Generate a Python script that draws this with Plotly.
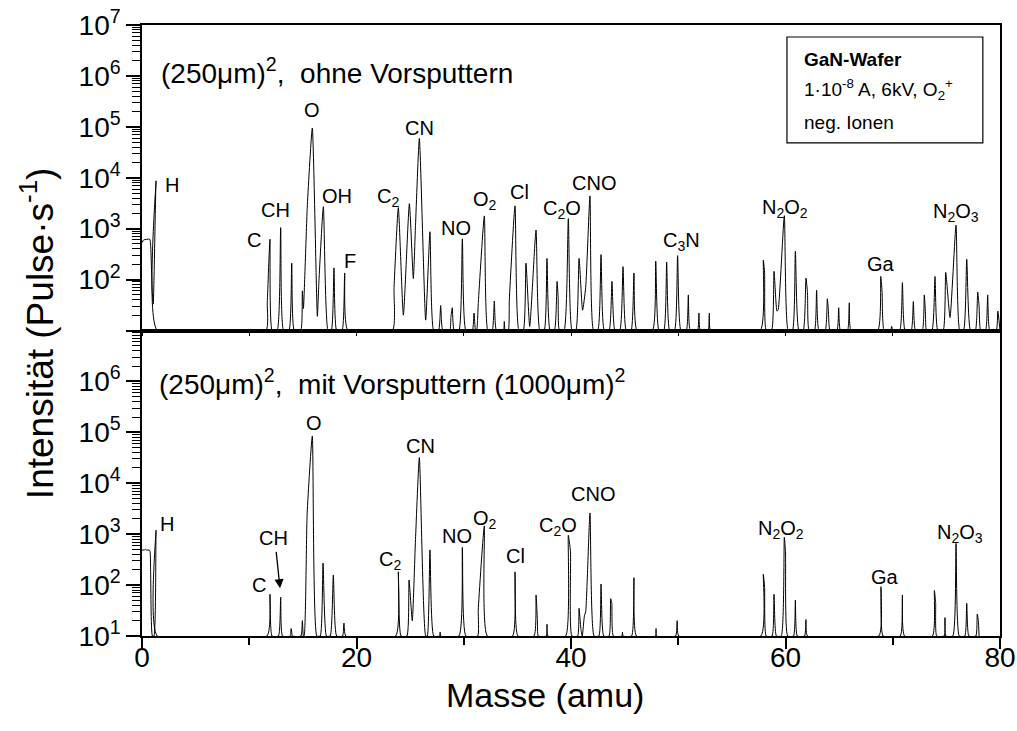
import plotly.graph_objects as go

# ---------------- data ----------------
# top panel: (250um)^2 without pre-sputtering; mass (amu) and intensity (counts/s)
top_mass = [0.00, 0.15, 0.72, 0.80, 0.95, 1.05, 1.31, 1.43,
            11.55, 11.68, 11.93, 12.13,
            12.60, 12.93, 13.20,
            13.70, 13.96, 14.20,
            14.80, 14.95, 15.05, 15.42, 15.88, 16.35, 16.50, 16.91, 17.35,
            17.65, 17.90, 18.15,
            18.65, 18.90, 19.20,
            23.35, 23.50, 23.90, 24.37, 24.93, 25.30, 25.50, 25.86, 26.45, 26.85, 27.20,
            27.65, 27.85, 28.05,
            28.70, 28.80, 28.93, 29.10,
            29.55, 29.87, 30.20,
            30.80, 30.96, 31.10,
            31.20, 31.36, 31.92, 32.25,
            32.65, 32.85, 33.05,
            33.70, 33.78, 33.86,
            34.15, 34.25, 34.78, 35.15,
            35.55, 35.80, 36.15, 36.74, 37.10,
            37.50, 37.76, 38.05,
            38.45, 38.70, 38.80, 38.92,
            39.35, 39.75, 40.10,
            40.45, 40.75, 41.08, 41.37, 41.77, 42.10,
            42.50, 42.80, 43.10,
            43.55, 43.82, 44.10,
            44.55, 44.85, 45.15,
            45.60, 45.87, 46.15,
            47.60, 47.90, 48.20,
            48.65, 48.92, 49.20,
            49.65, 49.94, 50.25,
            50.75, 50.94, 51.12,
            51.80, 51.93, 52.05,
            52.78, 52.90, 53.02,
            57.65, 57.93, 58.05, 58.20,
            58.70, 58.93, 59.20, 59.32, 59.89, 60.25,
            60.65, 60.92, 61.25,
            61.65, 61.91, 62.05, 62.20,
            62.70, 62.90, 63.12,
            63.70, 63.90, 64.00, 64.15,
            64.80, 64.96, 65.12,
            65.78, 65.95, 66.12,
            68.60, 68.88, 69.00, 69.20,
            69.80, 69.90, 70.00,
            70.65, 70.90, 71.15,
            71.72, 71.92, 72.12,
            72.75, 72.94, 73.05, 73.15,
            73.65, 73.94, 74.20,
            74.70, 74.94, 75.34, 75.90, 76.25,
            76.60, 76.90, 77.25,
            77.70, 77.92, 78.05, 78.20,
            78.65, 78.85, 79.05,
            79.65, 79.80, 80.00]
top_counts = [530, 600, 620, 500, 60, 33, 8700, 10,
              10, 35, 620, 10,
              10, 1050, 10,
              10, 210, 10,
              10, 60, 27, 3000, 95000, 19, 95, 2700, 10,
              10, 170, 10,
              10, 135, 10,
              10, 70, 2600, 20, 3100, 105, 1150, 59000, 16, 870, 10,
              10, 31, 10,
              10, 18, 28, 10,
              10, 630, 10,
              10, 22, 10,
              10, 36, 1780, 10,
              10, 38, 10,
              10, 15, 10,
              10, 40, 2800, 10,
              10, 210, 12, 940, 10,
              10, 260, 10,
              10, 92, 45, 10,
              10, 1580, 10,
              10, 260, 25, 70, 4400, 10,
              10, 310, 10,
              10, 92, 10,
              10, 180, 10,
              10, 135, 10,
              10, 230, 10,
              10, 220, 10,
              10, 295, 10,
              10, 50, 10,
              10, 22, 10,
              10, 22, 10,
              10, 240, 140, 10,
              10, 145, 24, 26, 1800, 10,
              10, 360, 10,
              10, 107, 55, 10,
              10, 62, 10,
              10, 42, 25, 10,
              10, 28, 10,
              10, 35, 10,
              10, 115, 60, 10,
              10, 12, 10,
              10, 87, 10,
              10, 37, 10,
              10, 50, 22, 10,
              10, 115, 10,
              10, 138, 18, 1170, 10,
              10, 250, 10,
              10, 57, 30, 10,
              10, 50, 10,
              10, 24, 10]

# bottom panel: (250um)^2 with pre-sputtering (1000um)^2
bot_mass = [0.00, 0.10, 0.20, 0.30, 0.40, 0.72, 0.80, 0.97, 1.12, 1.31, 1.43,
            11.65, 11.93, 12.12,
            12.72, 12.93, 13.10,
            13.82, 13.90, 13.96, 14.02,
            14.82, 14.95, 15.05, 15.12, 15.40, 15.88, 16.30,
            16.62, 16.88, 17.20,
            17.55, 17.84, 18.15,
            18.70, 18.83, 19.00,
            23.65, 23.90, 24.15,
            24.70, 24.90, 25.20, 25.50, 25.86, 26.45,
            26.60, 26.85, 27.20,
            27.75, 27.80, 27.85,
            29.55, 29.87, 30.20,
            31.30, 31.35, 31.92, 32.20,
            34.55, 34.78, 35.05,
            36.55, 36.74, 36.87, 36.95,
            37.70, 37.76, 37.85,
            39.50, 39.75, 39.95, 40.08,
            40.62, 40.75, 40.92, 41.05, 41.25, 41.37, 41.77, 42.15,
            42.60, 42.80, 43.05,
            43.55, 43.70, 43.80, 43.95,
            44.75, 44.80, 44.85,
            45.65, 45.87, 46.10,
            47.88, 47.93, 47.98,
            49.75, 49.90, 50.05,
            57.70, 57.93, 58.05, 58.20,
            58.75, 58.93, 59.15,
            59.60, 59.89, 60.00, 60.20,
            60.75, 60.92, 61.10,
            61.78, 61.91, 62.05,
            68.70, 68.90, 69.10,
            70.70, 70.90, 71.10,
            73.70, 73.88, 74.00, 74.10,
            74.80, 74.87, 74.95,
            75.60, 75.90, 76.20,
            76.72, 76.90, 77.10,
            77.75, 77.88, 77.98, 78.05]
bot_counts = [470, 500, 480, 510, 490, 480, 200, 10, 10, 1200, 10,
              10, 66, 10,
              10, 58, 10,
              10, 14, 12, 10,
              10, 20, 10, 10, 2600, 85000, 10,
              10, 270, 10,
              10, 158, 10,
              10, 18, 10,
              10, 182, 10,
              10, 126, 20, 780, 32000, 10,
              10, 490, 10,
              10, 12, 10,
              10, 550, 10,
              10, 32, 1450, 10,
              10, 182, 10,
              10, 64, 20, 10,
              10, 17, 10,
              10, 950, 450, 10,
              10, 35, 14, 10, 25, 30, 2600, 10,
              10, 105, 10,
              10, 54, 45, 10,
              10, 12, 10,
              10, 140, 10,
              10, 14, 10,
              10, 20, 10,
              10, 163, 90, 10,
              10, 66, 10,
              10, 870, 450, 10,
              10, 51, 10,
              10, 21, 10,
              10, 93, 10,
              10, 64, 10,
              10, 78, 45, 10,
              10, 23, 10,
              10, 660, 10,
              10, 44, 10,
              10, 27, 20, 10]

x_tick_vals = [0, 20, 40, 60, 80]
x_minor_vals = [10, 30, 50, 70]
y_tick_vals = [1e1, 1e2, 1e3, 1e4, 1e5, 1e6, 1e7]
top_tick_text = ["", "10<sup>2</sup>", "10<sup>3</sup>", "10<sup>4</sup>",
                 "10<sup>5</sup>", "10<sup>6</sup>", "10<sup>7</sup>"]
bot_tick_text = ["10<sup>1</sup>", "10<sup>2</sup>", "10<sup>3</sup>", "10<sup>4</sup>",
                 "10<sup>5</sup>", "10<sup>6</sup>", ""]
y_minor_vals = [m * 10 ** k for k in range(1, 7) for m in range(2, 10)]

top_labels = ["H", "C", "CH", "O", "OH", "F", "C<sub>2</sub>", "CN", "NO", "O<sub>2</sub>",
              "Cl", "C<sub>2</sub>O", "CNO", "C<sub>3</sub>N", "N<sub>2</sub>O<sub>2</sub>",
              "Ga", "N<sub>2</sub>O<sub>3</sub>"]
bot_labels = ["H", "C", "CH", "O", "C<sub>2</sub>", "CN", "NO", "O<sub>2</sub>", "Cl",
              "C<sub>2</sub>O", "CNO", "N<sub>2</sub>O<sub>2</sub>", "Ga", "N<sub>2</sub>O<sub>3</sub>"]

# ---------------- layout positions (label placement) ----------------
top_label_pos = [(2.77, 0.738), (10.44, 0.648), (12.43, 0.697), (15.88, 0.861), (18.15, 0.720),
                 (19.39, 0.614), (22.97, 0.718), (25.92, 0.831), (29.28, 0.667), (31.98, 0.712),
                 (35.24, 0.727), (39.13, 0.698), (42.17, 0.742), (50.26, 0.645), (59.95, 0.700),
                 (68.90, 0.609), (75.87, 0.693)]
bot_label_pos = [(2.30, 0.184), (10.91, 0.0835), (12.24, 0.160), (16.07, 0.349), (23.12, 0.124),
                 (25.99, 0.311), (29.34, 0.164), (31.98, 0.190), (34.78, 0.131), (38.82, 0.179),
                 (42.08, 0.232), (59.58, 0.174), (69.27, 0.096), (76.27, 0.167)]

FONT = "Liberation Sans, Arial, sans-serif"

fig = go.Figure()
fig.add_trace(go.Scatter(x=top_mass, y=top_counts, xaxis="x2", yaxis="y2", mode="lines",
                         line=dict(color="black", width=1, shape="spline", smoothing=0.5),
                         showlegend=False, hoverinfo="skip"))
fig.add_trace(go.Scatter(x=bot_mass, y=bot_counts, xaxis="x", yaxis="y", mode="lines",
                         line=dict(color="black", width=1, shape="spline", smoothing=0.5),
                         showlegend=False, hoverinfo="skip"))

yax_common = dict(type="log", range=[1, 7], tickmode="array", tickvals=y_tick_vals,
                  ticks="outside", ticklen=14, tickwidth=1.5, tickcolor="black",
                  showline=True, linewidth=1.5, linecolor="black", mirror=True,
                  showgrid=False, zeroline=False, automargin=False,
                  tickfont=dict(family=FONT, size=28, color="black"),
                  minor=dict(tickmode="array", tickvals=y_minor_vals, ticks="outside",
                             ticklen=8, tickwidth=1, tickcolor="black", showgrid=False))

fig.update_layout(
    width=1017, height=731, autosize=False,
    margin=dict(l=142, r=17, t=25, b=95),
    paper_bgcolor="white", plot_bgcolor="white",
    font=dict(family=FONT, color="black"),
    xaxis=dict(domain=[0, 1], range=[0, 80], anchor="y", tickmode="array", tickvals=x_tick_vals,
               ticks="outside", ticklen=11, tickwidth=1.5, tickcolor="black",
               showline=True, linewidth=1.5, linecolor="black", mirror=True,
               showgrid=False, zeroline=False, automargin=False, ticklabelstandoff=-15,
               tickfont=dict(family=FONT, size=28, color="black"),
               minor=dict(tickmode="array", tickvals=x_minor_vals, ticks="outside",
                          ticklen=7, tickwidth=1.5, tickcolor="black", showgrid=False)),
    xaxis2=dict(domain=[0, 1], range=[0, 80], anchor="y2", matches="x", showticklabels=False,
                tickmode="linear", tick0=0, dtick=10, ticks="outside", ticklen=4, tickwidth=1,
                tickcolor="black", showline=True, linewidth=1.5, linecolor="black",
                mirror=True, showgrid=False, zeroline=False, automargin=False),
    yaxis=dict(domain=[0, 0.5], anchor="x", ticktext=bot_tick_text, **yax_common),
    yaxis2=dict(domain=[0.5, 1], anchor="x2", ticktext=top_tick_text, **yax_common),
)

ann = []
for txt, (mx, py) in zip(top_labels, top_label_pos):
    ann.append(dict(text=txt, x=mx, y=py, xref="x2", yref="paper", showarrow=False,
                    xanchor="center", yanchor="middle", font=dict(family=FONT, size=20)))
for txt, (mx, py) in zip(bot_labels, bot_label_pos):
    ann.append(dict(text=txt, x=mx, y=py, xref="x", yref="paper", showarrow=False,
                    xanchor="center", yanchor="middle", font=dict(family=FONT, size=20)))

# arrow pointing at CH in lower panel
ann.append(dict(text="", x=12.87, y=0.078, xref="x", yref="paper", showarrow=True,
                ax=-4, ay=-38, arrowhead=2, arrowsize=1.4, arrowwidth=1.3, arrowcolor="black",
                standoff=0))

# panel captions
ann.append(dict(text="(250\u03bcm)<sup>2</sup>,\u00a0\u00a0ohne Vorsputtern", x=0.0198, y=0.925,
                xref="paper", yref="paper", showarrow=False, xanchor="left", yanchor="middle",
                font=dict(family=FONT, size=28)))
ann.append(dict(text="(250\u03bcm)<sup>2</sup>,\u00a0\u00a0mit Vorsputtern (1000\u03bcm)<sup>2</sup>",
                x=0.0175, y=0.415, xref="paper", yref="paper", showarrow=False, xanchor="left",
                yanchor="middle", font=dict(family=FONT, size=28)))

# info box text
ann.append(dict(text="<b>GaN-Wafer</b>", x=0.769, y=0.943, xref="paper", yref="paper",
                showarrow=False, xanchor="left", yanchor="middle", font=dict(family=FONT, size=19)))
ann.append(dict(text="1\u00b710<sup>-8</sup> A, 6kV, O<sub>2</sub><sup>+</sup>", x=0.769, y=0.894,
                xref="paper", yref="paper", showarrow=False, xanchor="left", yanchor="middle",
                font=dict(family=FONT, size=19)))
ann.append(dict(text="neg. Ionen", x=0.769, y=0.841, xref="paper", yref="paper",
                showarrow=False, xanchor="left", yanchor="middle", font=dict(family=FONT, size=19)))

# axis titles
ann.append(dict(text="Intensit\u00e4t (Pulse\u00b7s<sup>-1</sup>)", x=-0.121, y=0.496,
                xref="paper", yref="paper", showarrow=False, textangle=-90,
                xanchor="center", yanchor="middle", font=dict(family=FONT, size=37)))
ann.append(dict(text="Masse (amu)", x=0.47, y=-0.097, xref="paper", yref="paper",
                showarrow=False, xanchor="center", yanchor="middle", font=dict(family=FONT, size=34)))

fig.update_layout(annotations=ann)

fig.add_shape(type="rect", xref="paper", yref="paper", x0=0.7517, x1=0.980, y0=0.807, y1=0.9804,
              line=dict(color="black", width=1.2), fillcolor="rgba(0,0,0,0)")

fig.write_html("out.html")
